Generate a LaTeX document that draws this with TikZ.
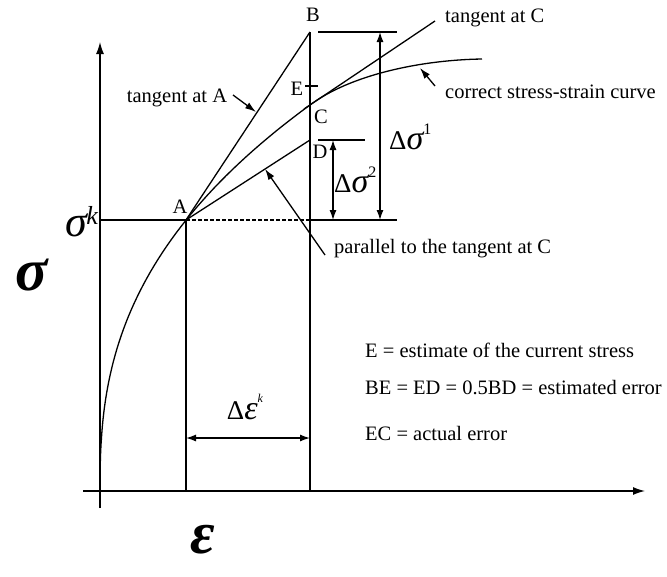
\documentclass[tikz,border=0pt]{standalone}
\usepackage{fontspec}
\setmainfont{Liberation Serif}
\usetikzlibrary{arrows.meta}

\tikzset{
  line/.style={line width=1.3pt},
  axis/.style={line width=1.3pt, -{Latex[length=12pt,width=8pt]}},
  dim/.style={line width=1.3pt, {Latex[length=10pt,width=7pt]}-{Latex[length=10pt,width=7pt]}},
  pointer/.style={line width=1.3pt, -{Latex[length=11pt,width=7pt]}},
  lbl/.style={font=\fontsize{20.5}{22}\selectfont, inner sep=0pt},
  legend/.style={font=\fontsize{20.5}{22}\selectfont, inner sep=0pt, anchor=west},
  biggreek/.style={font=\fontsize{60}{60}\selectfont\bfseries\itshape, inner sep=0pt}
}

\begin{document}
\begin{tikzpicture}[x=1pt,y=-1pt]
\useasboundingbox (0,0) rectangle (667,576);

% points
\coordinate (O) at (100,491);
\coordinate (A) at (186,220);
\coordinate (B) at (310,32);
\coordinate (C) at (310,105);
\coordinate (D) at (310,140);
\coordinate (E) at (310,86);
\coordinate (Ak) at (100,220);
\coordinate (Bk) at (310,220);
\coordinate (Af) at (186,491);
\coordinate (Bf) at (310,491);

% axes
\draw[axis] (100,508) -- (100,42);
\draw[axis] (83,491) -- (645,491);

% sigma^k level
\draw[line] (Ak) -- (A);
\draw[line, dash pattern=on 4pt off 2pt] (A) -- (Bk);
\draw[line] (Bk) -- (397,220);

% verticals
\draw[line] (A) -- (Af);
\draw[line] (B) -- (Bf);

% stress-strain curve
\draw[line] (O) -- plot[domain=0.02:1, samples=60, variable=\s]
  ({100+210*pow(\s,2.52)}, {491-386*\s})
  .. controls (350,75) and (420,60) .. (482,59);

% tangents
\draw[line] (A) -- (B);
\draw[line] (304,109) -- (435,21);
\draw[line] (A) -- (D);

% E tick
\draw[line] (305,86) -- (318,86);

% dimension lines
\draw[line] (318,32) -- (397,32);
\draw[line] (318,140) -- (365,140);
\draw[dim] (380,32) -- (380,220);
\draw[dim] (333,140) -- (333,220);
\draw[dim] (186,438) -- (310,438);

% point labels
\node[lbl] (lB) at (313,15) {B};
\node[lbl] (lA) at (180,207) {A};
\node[lbl] (lE) at (297,89) {E};
\node[lbl] (lC) at (321,117) {C};
\node[lbl] (lD) at (320,152) {D};

% quantity labels
\node[inner sep=0pt, anchor=base east] (sk) at (98,236)
  {\fontsize{44}{44}\selectfont\itshape σ\kern-1pt\raisebox{12pt}{\fontsize{26}{26}\selectfont k}};
\node[biggreek] (sig) at (32,275) {σ};
\node[biggreek] (eps) at (203,540) {ε};
\node[inner sep=0pt, anchor=west] (ds1) at (389,137)
  {\fontsize{27}{27}\selectfont Δ{\fontsize{34}{34}\selectfont\itshape σ}\raisebox{1.2ex}{\fontsize{16}{16}\selectfont 1}};
\node[inner sep=0pt, anchor=west] (ds2) at (334,180)
  {\fontsize{27}{27}\selectfont Δ{\fontsize{34}{34}\selectfont\itshape σ}\raisebox{1.2ex}{\fontsize{16}{16}\selectfont 2}};
\node[inner sep=0pt] (dek) at (245,407)
  {\fontsize{27}{27}\selectfont Δ{\fontsize{34}{34}\selectfont\itshape ε}\raisebox{1.4ex}{\fontsize{12}{12}\selectfont\itshape k}};

% pointer labels
\coordinate (pA) at (256,112);
\coordinate (pCurve) at (420,68);
\coordinate (pPar) at (265,169);
\node[lbl] (tA) at (177,98) {tangent at A};
\node[lbl, anchor=west] (tC) at (445,18) {tangent at C};
\node[lbl, anchor=west] (cs) at (445,92) {correct stress-strain curve};
\node[lbl, anchor=west] (par) at (334,249) {parallel to the tangent at C};
\draw[pointer] (233,95) -- (pA);
\draw[pointer] (435,86) -- (pCurve);
\draw[pointer] (325,255) -- (pPar);

% legend
\node[legend] (l1) at (365,350) {E = estimate of the current stress};
\node[legend] (l2) at (365,388) {BE = ED = 0.5BD = estimated error};
\node[legend] (l3) at (365,433) {EC = actual error};
\end{tikzpicture}
\end{document}
